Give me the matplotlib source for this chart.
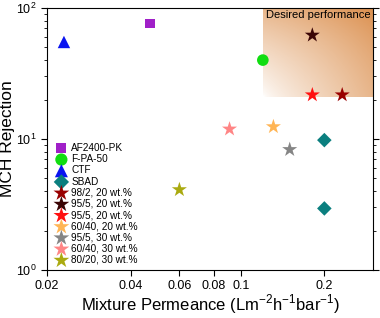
import matplotlib
matplotlib.use("Agg")
import matplotlib.pyplot as plt
import numpy as np
from matplotlib.ticker import FixedLocator, NullFormatter, LogLocator

plt.rcParams['font.family'] = ['Liberation Sans', 'DejaVu Sans']
plt.rcParams['mathtext.fontset'] = 'custom'
plt.rcParams['mathtext.rm'] = 'Liberation Sans'

# data
labels = ['AF2400-PK', 'F-PA-50', 'CTF', 'SBAD',
          '98/2, 20 wt.%', '95/5, 20 wt.%', '95/5, 20 wt.%', '60/40, 20 wt.%',
          '95/5, 30 wt.%', '60/40, 30 wt.%', '80/20, 30 wt.%']
permeance = [[0.047], [0.12], [0.023], [0.2, 0.2],
             [0.232], [0.181], [0.181], [0.131],
             [0.150], [0.091], [0.060]]
rejection = [[76], [40], [55], [9.8, 2.95],
             [21.7], [62], [21.7], [12.4],
             [8.3], [11.9], [4.1]]
markers = ['s', 'o', '^', 'D', '*', '*', '*', '*', '*', '*', '*']
colors = ['#A020C8', '#11DD11', '#0A14F0', '#0B7F7F',
          '#990000', '#3A0505', '#FF1010', '#FFB555',
          '#858585', '#FF8585', '#AAAA10']
sizes = [45, 70, 80, 55, 130, 130, 130, 130, 130, 130, 130]

xticks = [0.02, 0.04, 0.06, 0.08, 0.1, 0.2]
xticklabels = ['0.02', '0.04', '0.06', '0.08', '0.1', '0.2']

fig = plt.figure(figsize=(3.8, 3.18), dpi=100)
ax = fig.add_axes([0.124, 0.151, 0.858, 0.824])
ax.set_xscale('log')
ax.set_yscale('log')

# desired performance region, gradient white -> orange
n = 200
u = np.linspace(0, 1, n)
U, V = np.meshgrid(u, u[::-1])
t = (U + V) / 2
img = np.zeros((n, n, 4))
img[..., 0] = 0.86
img[..., 1] = 0.56
img[..., 2] = 0.30
img[..., 3] = np.clip(t, 0, 1) ** 0.6
ax.imshow(img, extent=(0.12, 0.3, 21, 100), aspect='auto', zorder=0,
          interpolation='bilinear')
ax.set_xlim(0.02, 0.3)
ax.set_ylim(1, 100)
ax.text(0.293, 88, 'Desired performance', ha='right', va='center', fontsize=8)

for i in range(len(labels)):
    ax.scatter(permeance[i], rejection[i], marker=markers[i], s=sizes[i],
               color=colors[i], edgecolors='none', label=labels[i], zorder=3)

ax.xaxis.set_major_locator(FixedLocator(xticks))
ax.set_xticklabels(xticklabels)
ax.xaxis.set_minor_locator(FixedLocator([]))
ax.xaxis.set_minor_formatter(NullFormatter())
ax.yaxis.set_minor_locator(LogLocator(base=10, subs=np.arange(2, 10)))
ax.tick_params(axis='both', which='both', direction='out', labelsize=9,
               right=True, top=False)
ax.tick_params(which='major', length=4)
ax.tick_params(which='minor', length=2.5)

ax.set_xlabel('Mixture Permeance (Lm$^{-2}$h$^{-1}$bar$^{-1}$)', fontsize=12, labelpad=0)
ax.set_ylabel('MCH Rejection', fontsize=12.5, labelpad=1)

ax.legend(loc='lower left', fontsize=7.2, frameon=False, handletextpad=0.4,
          labelspacing=0.12, borderaxespad=0.1, handlelength=1.2,
          markerscale=1.05, bbox_to_anchor=(0.01, 0.0))

fig.savefig('out.png', dpi=100)
